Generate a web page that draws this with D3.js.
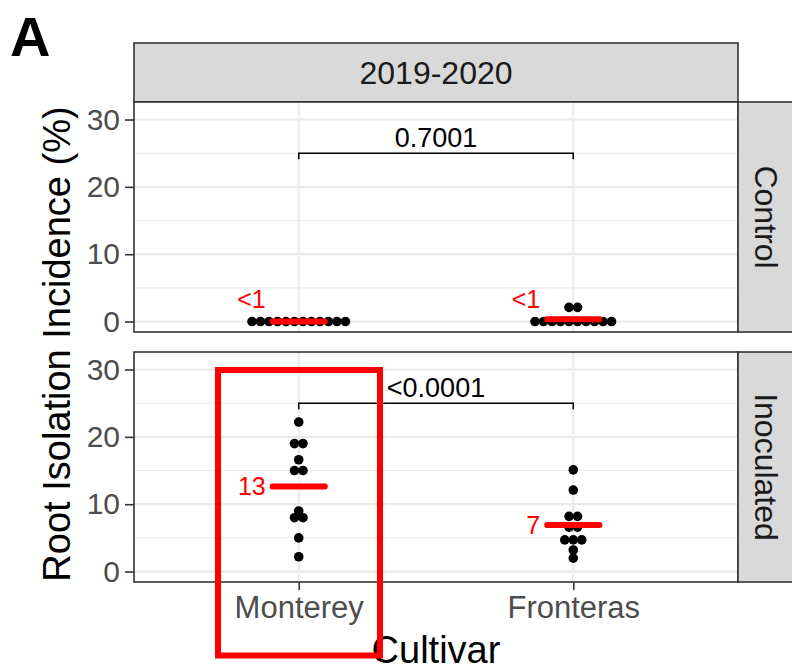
<!DOCTYPE html>
<html>
<head>
<meta charset="utf-8">
<script src="https://cdn.jsdelivr.net/npm/d3@7"></script>
<style>
  html, body { margin: 0; padding: 0; background: #fff; }
  svg { display: block; font-family: "Liberation Sans", Arial, Helvetica, sans-serif; }
</style>
</head>
<body>
<svg id="chart" width="792" height="672"></svg>
<script>
// Root isolation incidence (%) per cultivar, faceted by treatment
const season = "2019-2020";
const cultivars = ["Monterey", "Fronteras"];
const treatments = ["Control", "Inoculated"];

const controlMonterey = [0, 0, 0, 0, 0, 0, 0, 0, 0, 0, 0, 0];
const controlFronteras = [0, 0, 0, 0, 0, 0, 0, 0, 0, 0, 2.1, 2.1];
const inoculatedMonterey = [22.2, 19.0, 19.0, 16.6, 15.0, 15.0, 9.0, 8.0, 8.0, 5.0, 2.2];
const inoculatedFronteras = [15.1, 12.1, 8.2, 8.2, 6.6, 6.6, 4.7, 4.7, 4.7, 3.2, 2.0];

const pValueLabels = ["0.7001", "<0.0001"];
const yTickValues = [0, 10, 20, 30];
const yMinorValues = [5, 15, 25];
const bracketLevel = 25;

const seriesByTreatment = {
  Control: [controlMonterey, controlFronteras],
  Inoculated: [inoculatedMonterey, inoculatedFronteras]
};

const svg = d3.select("#chart");

// layout
const panelLeft = 134, panelRight = 738;
const stripTop = 43, stripBottom = 102;
const panelH = 230;
const panelTops = [102, 352];
const stripRightW = 60;

const x = d3.scalePoint().domain(cultivars).range([panelLeft, panelRight]).padding(0.6);
const yDomain = [-1.55, 32.6];

const tickColor = "#333333";
const gridColor = "#ebebeb";

// facet strip on top
svg.append("rect")
  .attr("x", panelLeft).attr("y", stripTop)
  .attr("width", panelRight - panelLeft).attr("height", stripBottom - stripTop)
  .attr("fill", "#d9d9d9").attr("stroke", tickColor).attr("stroke-width", 1.6);
svg.append("text")
  .attr("x", (panelLeft + panelRight) / 2).attr("y", (stripTop + stripBottom) / 2)
  .attr("dy", "0.36em").attr("text-anchor", "middle")
  .attr("font-size", 32).attr("fill", "#1a1a1a")
  .text(season);

treatments.forEach((tr, pi) => {
  const top = panelTops[pi];
  const y = d3.scaleLinear().domain(yDomain).range([top + panelH, top]);
  const g = svg.append("g");

  // background + grid
  g.append("rect").attr("x", panelLeft).attr("y", top)
    .attr("width", panelRight - panelLeft).attr("height", panelH).attr("fill", "#fff");
  g.selectAll("line.minor").data(yMinorValues).join("line")
    .attr("x1", panelLeft).attr("x2", panelRight)
    .attr("y1", d => y(d)).attr("y2", d => y(d))
    .attr("stroke", gridColor).attr("stroke-width", 1.1);
  g.selectAll("line.major").data(yTickValues).join("line")
    .attr("x1", panelLeft).attr("x2", panelRight)
    .attr("y1", d => y(d)).attr("y2", d => y(d))
    .attr("stroke", gridColor).attr("stroke-width", 2.2);
  g.selectAll("line.vmajor").data(cultivars).join("line")
    .attr("x1", d => x(d)).attr("x2", d => x(d))
    .attr("y1", top).attr("y2", top + panelH)
    .attr("stroke", gridColor).attr("stroke-width", 2.2);

  // y axis
  const yAxis = d3.axisLeft(y).tickValues(yTickValues).tickSize(9).tickPadding(5);
  const ya = svg.append("g").attr("transform", `translate(${panelLeft},0)`).call(yAxis);
  ya.select(".domain").remove();
  ya.selectAll(".tick line").attr("stroke", tickColor).attr("stroke-width", 1.6);
  ya.selectAll(".tick text").attr("font-size", 30).attr("fill", "#4d4d4d")
    .attr("font-family", "Liberation Sans, Arial, sans-serif");

  // dots, stacked side by side for tied values
  const spacing = 8.5, r = 4.8;
  const series = seriesByTreatment[tr];
  cultivars.forEach((c, ci) => {
    const vals = series[ci];
    const bins = d3.groups(vals, v => v);
    const pts = [];
    bins.forEach(([v, arr]) => {
      arr.forEach((_, i) => pts.push({ v, off: (i - (arr.length - 1) / 2) * spacing }));
    });
    g.selectAll(null).data(pts).join("circle")
      .attr("cx", d => x(c) + d.off).attr("cy", d => y(d.v))
      .attr("r", r).attr("fill", "#000");

    // mean bar and label
    const m = d3.mean(vals);
    const barW = 58, barH = 6;
    g.append("rect")
      .attr("x", x(c) - barW / 2).attr("y", y(m) - barH / 2)
      .attr("width", barW).attr("height", barH).attr("rx", 2.5)
      .attr("fill", "#ff0000");
    const small = m < 1;
    g.append("text")
      .attr("x", x(c) - 33)
      .attr("y", small ? y(0) - 23 : y(m))
      .attr("dy", "0.36em").attr("text-anchor", "end")
      .attr("font-size", 25).attr("fill", "#ff0000")
      .text(small ? "<1" : Math.round(m));
  });

  // comparison bracket
  const by = y(bracketLevel);
  const x1 = x(cultivars[0]), x2 = x(cultivars[1]);
  g.append("path")
    .attr("d", `M${x1},${by + 6}V${by}H${x2}V${by + 6}`)
    .attr("fill", "none").attr("stroke", "#000").attr("stroke-width", 1.5);
  g.append("text")
    .attr("x", (x1 + x2) / 2).attr("y", by - 6)
    .attr("text-anchor", "middle").attr("font-size", 27).attr("fill", "#000")
    .text(pValueLabels[pi]);

  // border
  g.append("rect").attr("x", panelLeft).attr("y", top)
    .attr("width", panelRight - panelLeft).attr("height", panelH)
    .attr("fill", "none").attr("stroke", tickColor).attr("stroke-width", 1.6);

  // right facet strip
  svg.append("rect")
    .attr("x", panelRight).attr("y", top)
    .attr("width", stripRightW).attr("height", panelH)
    .attr("fill", "#d9d9d9").attr("stroke", tickColor).attr("stroke-width", 1.6);
  svg.append("text")
    .attr("transform", `translate(${panelRight + 29},${top + panelH / 2}) rotate(90)`)
    .attr("dy", "0.36em").attr("text-anchor", "middle")
    .attr("font-size", 32).attr("fill", "#1a1a1a")
    .text(tr);

  // x axis under the bottom panel
  if (pi === treatments.length - 1) {
    const xa = svg.append("g").attr("transform", `translate(0,${top + panelH})`)
      .call(d3.axisBottom(x).tickSize(8).tickPadding(6));
    xa.select(".domain").remove();
    xa.selectAll(".tick line").attr("stroke", tickColor).attr("stroke-width", 1.6);
    xa.selectAll(".tick text").attr("font-size", 31).attr("fill", "#4d4d4d")
      .attr("font-family", "Liberation Sans, Arial, sans-serif");
  }
});

// axis titles
svg.append("text")
  .attr("x", (panelLeft + panelRight) / 2).attr("y", 663)
  .attr("text-anchor", "middle").attr("font-size", 38).attr("fill", "#000")
  .text("Cultivar");
svg.append("text")
  .attr("transform", "translate(70,344) rotate(-90)")
  .attr("text-anchor", "middle").attr("font-size", 38).attr("fill", "#000")
  .text("Root Isolation Incidence (%)");

// panel tag
svg.append("text")
  .attr("x", 10).attr("y", 56)
  .attr("font-size", 56).attr("font-weight", "bold").attr("fill", "#000")
  .text("A");

// highlight frame around the Monterey column
svg.append("rect")
  .attr("x", 218).attr("y", 370).attr("width", 162).attr("height", 285.5)
  .attr("fill", "none").attr("stroke", "#ff0000").attr("stroke-width", 6);
</script>
</body>
</html>
